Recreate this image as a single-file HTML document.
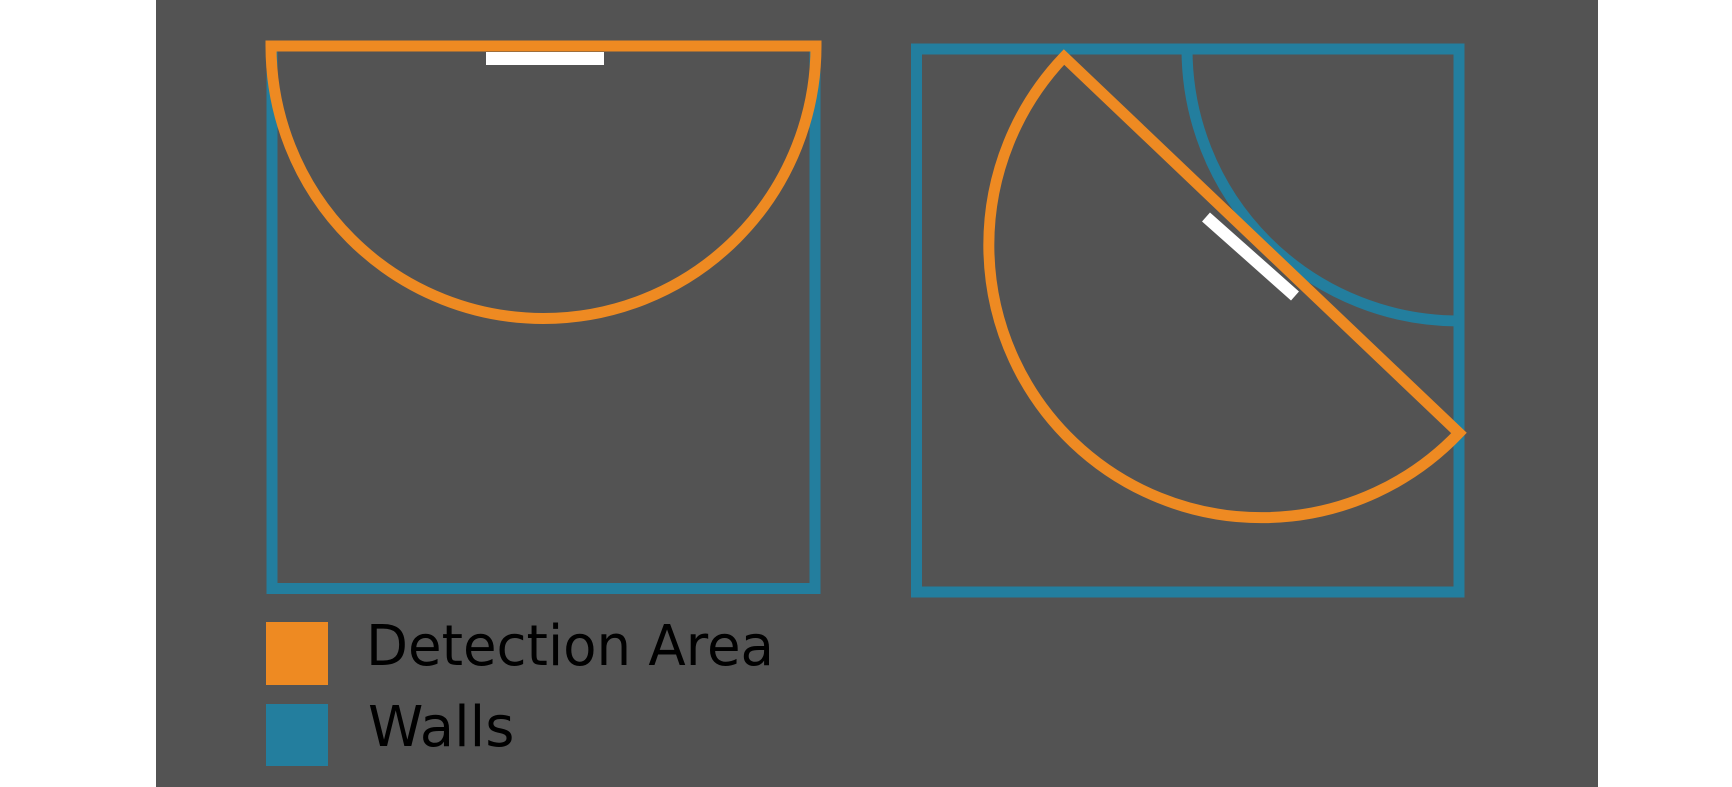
<!DOCTYPE html>
<html><head><meta charset="utf-8"><style>
html,body{margin:0;padding:0;background:#fff;}
svg{display:block;}
text{font-family:"DejaVu Sans","Liberation Sans",sans-serif;}
</style></head><body>
<svg width="1732" height="787" viewBox="0 0 1732 787">
  <rect x="156" y="0" width="1442" height="787" fill="#535353"/>
  <g>
    <rect x="272" y="46" width="543" height="542.5" fill="none" stroke="#237e9e" stroke-width="11"/>
    <path d="M 271 46 L 816 46 A 272.5 272.5 0 0 1 271 46 Z" fill="none" stroke="#ee8a22" stroke-width="11"/>
    <rect x="486" y="52" width="118" height="13" fill="#ffffff"/>
  </g>
  <g>
    <rect x="916.5" y="49" width="542.5" height="543" fill="none" stroke="#237e9e" stroke-width="11"/>
    <path d="M 1187 49 A 272 272 0 0 0 1459 321" fill="none" stroke="#237e9e" stroke-width="11"/>
    <path d="M 1064 57 L 1459 433 A 272.6 272.6 0 0 1 1064 57 Z" fill="none" stroke="#ee8a22" stroke-width="11"/>
    <line x1="1206" y1="217" x2="1295" y2="296" stroke="#ffffff" stroke-width="12"/>
  </g>
  <g>
    <rect x="266" y="622" width="62" height="63" fill="#ee8a22"/>
    <text x="366" y="665" font-size="56" fill="#000" textLength="408" lengthAdjust="spacingAndGlyphs">Detection Area</text>
    <rect x="266" y="704" width="62" height="62" fill="#237e9e"/>
    <text x="368" y="746" font-size="56" fill="#000">Walls</text>
  </g>
</svg>
</body></html>
